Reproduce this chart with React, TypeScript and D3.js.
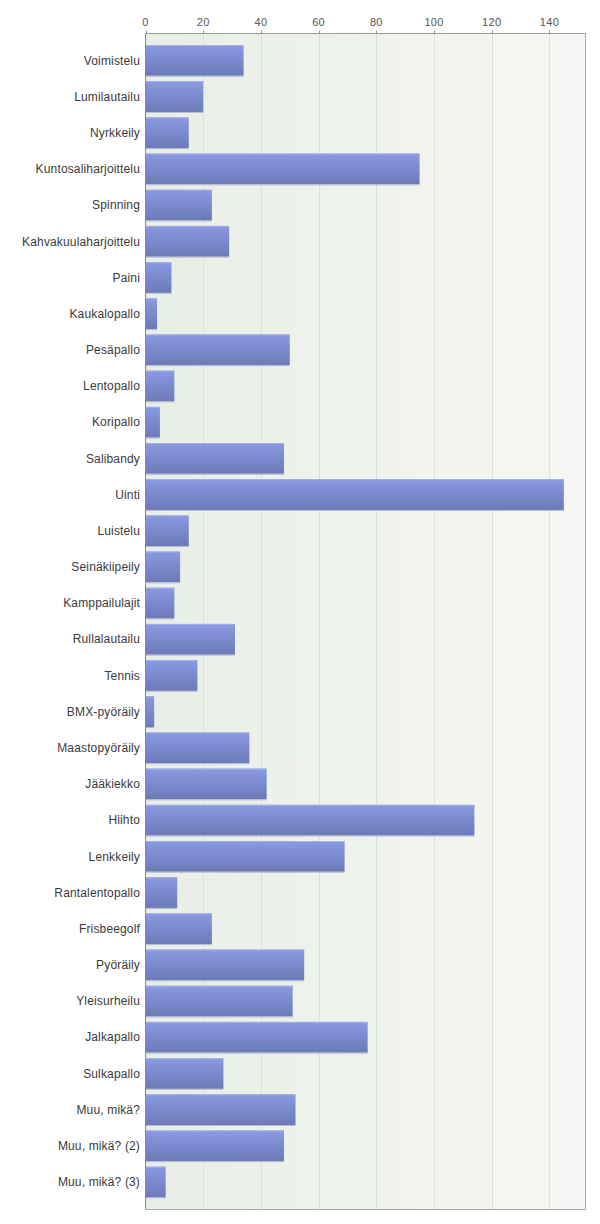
import React from "react";
import * as d3 from "d3";

const categories = [
  "Voimistelu", "Lumilautailu", "Nyrkkeily", "Kuntosaliharjoittelu", "Spinning",
  "Kahvakuulaharjoittelu", "Paini", "Kaukalopallo", "Pesäpallo", "Lentopallo",
  "Koripallo", "Salibandy", "Uinti", "Luistelu", "Seinäkiipeily", "Kamppailulajit",
  "Rullalautailu", "Tennis", "BMX-pyöräily", "Maastopyöräily", "Jääkiekko", "Hiihto",
  "Lenkkeily", "Rantalentopallo", "Frisbeegolf", "Pyöräily", "Yleisurheilu",
  "Jalkapallo", "Sulkapallo", "Muu, mikä?", "Muu, mikä? (2)", "Muu, mikä? (3)",
];
const values = [
  34, 20, 15, 95, 23, 29, 9, 4, 50, 10, 5, 48, 145, 15, 12, 10, 31, 18, 3, 36, 42,
  114, 69, 11, 23, 55, 51, 77, 27, 52, 48, 7,
];
const tickValues = [0, 20, 40, 60, 80, 100, 120, 140];

export default function App() {
  const W = 600, H = 1224;
  const left = 145.5, right = 585.5, top = 33.5, bottom = 1209.5;
  const x = d3.scaleLinear().domain([0, 152.5]).range([left, right]);
  const y = d3.scaleBand<string>().domain(categories).range([39.6, 1202.8]).paddingInner(0.15).paddingOuter(0.15);
  const font = "'Liberation Sans', Arial, sans-serif";
  return (
    <svg width={W} height={H} style={{ position: "absolute", left: 0, top: 0, display: "block" }}>
      <defs>
        <linearGradient id="bg" x1="0" x2="1" y1="0" y2="0">
          <stop offset="0" stopColor="#e8eee5" />
          <stop offset="1" stopColor="#f6f7f4" />
        </linearGradient>
        <linearGradient id="bar" x1="0" x2="0" y1="0" y2="1">
          <stop offset="0" stopColor="#8a9ae2" />
          <stop offset="1" stopColor="#6c7ab8" />
        </linearGradient>
      </defs>
      <rect x={0} y={0} width={W} height={H} fill="#ffffff" />
      <rect x={left} y={top} width={right - left} height={bottom - top} fill="url(#bg)" />
      {tickValues.map((t) => (
        <g key={t}>
          {t > 0 && (
            <line x1={Math.round(x(t)) + 0.5} x2={Math.round(x(t)) + 0.5} y1={top} y2={bottom} stroke="#dcdfdc" strokeWidth={1} />
          )}
          <line x1={Math.round(x(t)) + 0.5} x2={Math.round(x(t)) + 0.5} y1={top - 3} y2={top} stroke="#999" strokeWidth={1} />
          <text x={x(t)} y={26} textAnchor="middle" fontFamily={font} fontSize={11} fill="#555" letterSpacing={0.3}>
            {t}
          </text>
        </g>
      ))}
      {categories.map((c, i) => {
        const by = y(c)!;
        const bh = y.bandwidth();
        const bw = x(values[i]) - x(0);
        return (
          <g key={c}>
            <rect x={left} y={by} width={bw} height={bh} fill="url(#bar)" />
            <rect x={left} y={by} width={bw} height={1} fill="#a2afea" />
            <rect x={left} y={by + bh} width={bw} height={1} fill="#b4bbd0" />
            <text x={140} y={by + bh / 2} dy="0.35em" textAnchor="end" fontFamily={font} fontSize={12} fill="#3a3a3a" letterSpacing={0.15}>
              {c}
            </text>
          </g>
        );
      })}
      <line x1={left} x2={right} y1={top} y2={top} stroke="#999" strokeWidth={1} />
      <line x1={left} x2={right} y1={bottom} y2={bottom} stroke="#aaa" strokeWidth={1} />
      <line x1={right} x2={right} y1={top} y2={bottom} stroke="#aaa" strokeWidth={1} />
      <line x1={left} x2={left} y1={top} y2={bottom} stroke="#888" strokeWidth={1} />
    </svg>
  );
}
